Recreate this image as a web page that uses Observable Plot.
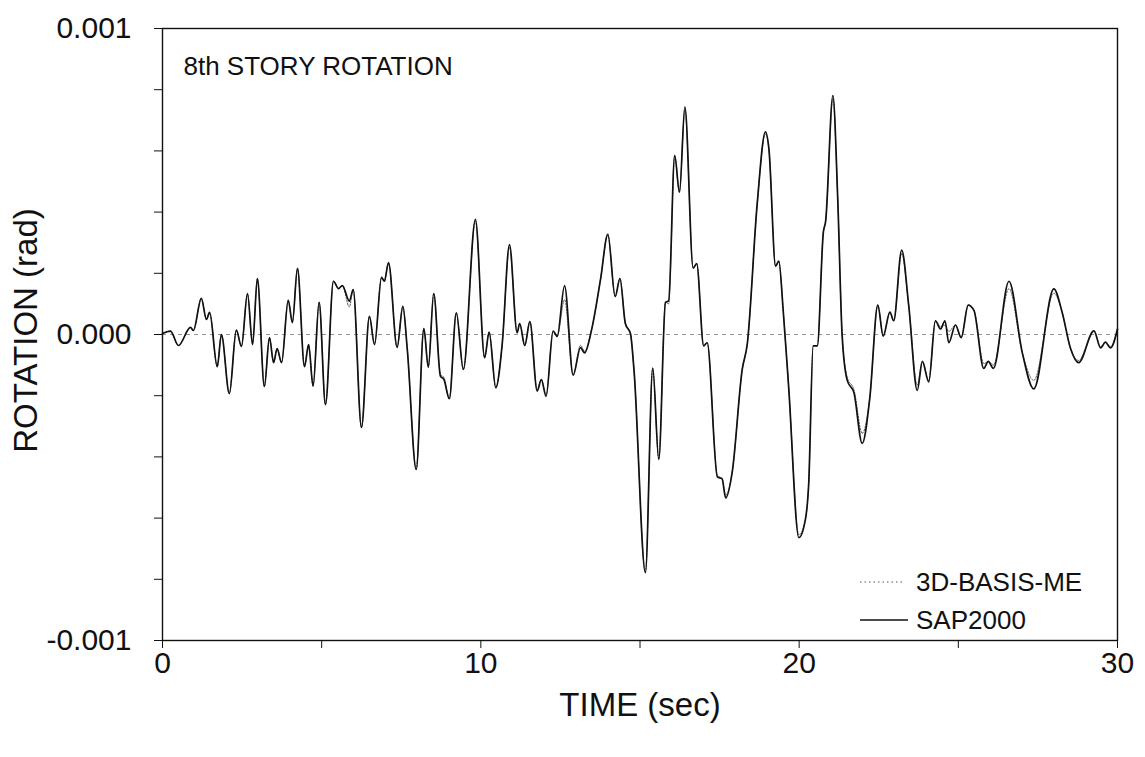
<!DOCTYPE html>
<html>
<head>
<meta charset="utf-8">
<script src="https://cdn.jsdelivr.net/npm/d3@7"></script>
<script src="https://cdn.jsdelivr.net/npm/@observablehq/plot@0.6"></script>
<style>
  html, body { margin: 0; padding: 0; background: #fff; }
  #wrap { position: relative; width: 1145px; height: 757px; font-family: "Liberation Sans", Arial, sans-serif; }
  #legend { position: absolute; left: 858px; top: 563px; font-size: 26px; color: #111; line-height: 38px; }
  #legend div { display: flex; align-items: center; height: 38px; }
  #legend svg { margin-right: 6px; }
</style>
</head>
<body>
<div id="wrap">
  <div id="chart"></div>
  <div id="legend"></div>
</div>
<script>
// Time (sec)
const times = [
  0.00, 0.25, 0.50, 0.88, 0.97, 1.22, 1.38, 1.48, 1.72, 1.85,
  2.10, 2.32, 2.48, 2.67, 2.83, 2.98, 3.20, 3.36, 3.49, 3.60,
  3.74, 3.95, 4.08, 4.24, 4.46, 4.59, 4.73, 4.92, 5.12, 5.37,
  5.53, 5.65, 5.87, 5.99, 6.25, 6.50, 6.66, 6.88, 6.97, 7.10,
  7.37, 7.55, 7.69, 7.97, 8.21, 8.35, 8.52, 8.73, 8.84, 9.01,
  9.23, 9.45, 9.83, 10.12, 10.26, 10.47, 10.67, 10.90, 11.14, 11.22,
  11.38, 11.54, 11.77, 11.90, 12.05, 12.27, 12.40, 12.63, 12.90, 13.13,
  13.26, 13.48, 13.76, 13.99, 14.22, 14.37, 14.54, 14.70, 14.81, 15.17,
  15.40, 15.59, 15.80, 15.90, 16.09, 16.24, 16.41, 16.67, 16.78, 17.00,
  17.11, 17.43, 17.58, 17.69, 17.90, 18.21, 18.37, 18.68, 18.94, 19.05,
  19.26, 19.36, 19.50, 19.67, 19.99, 20.20, 20.30, 20.44, 20.57, 20.76,
  20.83, 21.06, 21.21, 21.35, 21.51, 21.72, 21.98, 22.22, 22.47, 22.64,
  22.85, 22.97, 23.22, 23.44, 23.71, 23.87, 24.07, 24.28, 24.44, 24.58,
  24.70, 24.91, 25.09, 25.31, 25.49, 25.80, 25.94, 26.10, 26.59, 27.01,
  27.37, 28.00, 28.26, 28.52, 28.78, 29.26, 29.47, 29.62, 29.78, 30.00
];

// SAP2000 rotation (rad)
const sap2000 = [
  0.000003, 0.000011, -0.000036, 0.000023, 0.000013, 0.000118, 0.000049, 0.000072, -0.000105, 0.000000,
  -0.000193, 0.000014, -0.000039, 0.000134, -0.000033, 0.000183, -0.000170, -0.000010, -0.000092, -0.000046,
  -0.000092, 0.000112, 0.000039, 0.000216, -0.000105, -0.000033, -0.000169, 0.000105, -0.000229, 0.000174,
  0.000150, 0.000160, 0.000109, 0.000147, -0.000304, 0.000059, -0.000033, 0.000187, 0.000174, 0.000235,
  -0.000042, 0.000092, -0.000049, -0.000441, 0.000019, -0.000107, 0.000134, -0.000136, -0.000147, -0.000210,
  0.000071, -0.000114, 0.000376, -0.000076, 0.000008, -0.000174, -0.000033, 0.000294, 0.000006, 0.000036,
  -0.000036, 0.000042, -0.000185, -0.000147, -0.000202, 0.000011, -0.000006, 0.000160, -0.000133, -0.000043,
  -0.000060, 0.000016, 0.000180, 0.000327, 0.000124, 0.000183, 0.000036, 0.000003, -0.000114, -0.000778,
  -0.000110, -0.000408, 0.000105, 0.000110, 0.000585, 0.000465, 0.000744, 0.000217, 0.000232, -0.000037,
  -0.000027, -0.000465, -0.000472, -0.000534, -0.000447, -0.000115, -0.000031, 0.000425, 0.000662, 0.000606,
  0.000223, 0.000240, 0.000076, -0.000172, -0.000664, -0.000602, -0.000487, -0.000037, -0.000037, 0.000335,
  0.000369, 0.000781, 0.000448, -0.000003, -0.000150, -0.000190, -0.000356, -0.000206, 0.000096, -0.000005,
  0.000073, 0.000045, 0.000276, 0.000096, -0.000183, -0.000088, -0.000155, 0.000045, 0.000018, 0.000045,
  -0.000027, 0.000031, -0.000010, 0.000096, 0.000079, -0.000111, -0.000088, -0.000111, 0.000174, -0.000060,
  -0.000178, 0.000149, 0.000073, -0.000044, -0.000092, 0.000012, -0.000044, -0.000025, -0.000044, 0.000018
];

// 3D-BASIS-ME rotation (rad)
const basisMe = [
  0.000003, 0.000011, -0.000036, 0.000023, 0.000013, 0.000118, 0.000049, 0.000072, -0.000105, 0.000000,
  -0.000193, 0.000014, -0.000039, 0.000134, -0.000033, 0.000183, -0.000170, -0.000010, -0.000092, -0.000046,
  -0.000092, 0.000112, 0.000039, 0.000216, -0.000105, -0.000033, -0.000169, 0.000105, -0.000229, 0.000174,
  0.000150, 0.000160, 0.000090, 0.000147, -0.000304, 0.000059, -0.000033, 0.000187, 0.000174, 0.000235,
  -0.000042, 0.000092, -0.000049, -0.000441, 0.000019, -0.000107, 0.000134, -0.000130, -0.000140, -0.000210,
  0.000071, -0.000114, 0.000370, -0.000076, 0.000008, -0.000174, -0.000033, 0.000285, 0.000006, 0.000036,
  -0.000036, 0.000042, -0.000180, -0.000147, -0.000198, 0.000011, -0.000006, 0.000114, -0.000133, -0.000035,
  -0.000055, 0.000016, 0.000180, 0.000327, 0.000124, 0.000183, 0.000036, 0.000003, -0.000114, -0.000778,
  -0.000110, -0.000408, 0.000105, 0.000100, 0.000585, 0.000465, 0.000735, 0.000217, 0.000232, -0.000037,
  -0.000027, -0.000460, -0.000472, -0.000525, -0.000447, -0.000115, -0.000031, 0.000425, 0.000655, 0.000606,
  0.000223, 0.000240, 0.000076, -0.000172, -0.000655, -0.000602, -0.000487, -0.000037, -0.000037, 0.000335,
  0.000369, 0.000770, 0.000448, -0.000003, -0.000140, -0.000180, -0.000323, -0.000206, 0.000096, -0.000005,
  0.000073, 0.000045, 0.000265, 0.000096, -0.000165, -0.000088, -0.000150, 0.000045, 0.000025, 0.000030,
  0.000010, 0.000031, -0.000010, 0.000096, 0.000079, -0.000095, -0.000088, -0.000100, 0.000150, -0.000060,
  -0.000150, 0.000135, 0.000073, -0.000044, -0.000085, 0.000012, -0.000040, -0.000025, -0.000040, 0.000018
];

const xTickValues = [0, 5, 10, 15, 20, 25, 30];
const xLabelValues = [0, 10, 20, 30];
const xLabelTexts = ["0", "10", "20", "30"];
const yTickValues = [-0.001, -0.0008, -0.0006, -0.0004, -0.0002, 0, 0.0002, 0.0004, 0.0006, 0.0008, 0.001];
const yLabelValues = [-0.001, 0, 0.001];
const yLabelTexts = ["-0.001", "0.000", "0.001"];
const seriesNames = ["3D-BASIS-ME", "SAP2000"];

const sapData = times.map((t, i) => ({t, v: sap2000[i]}));
const basisData = times.map((t, i) => ({t, v: basisMe[i]}));

const font = "Liberation Sans, Arial, sans-serif";

const chart = Plot.plot({
  width: 1145,
  height: 757,
  marginTop: 28,
  marginRight: 28,
  marginBottom: 117,
  marginLeft: 162,
  style: {fontFamily: font, background: "#fff", color: "#111"},
  x: {domain: [0, 30]},
  y: {domain: [-0.001, 0.001]},
  marks: [
    Plot.ruleY([0], {stroke: "#888", strokeWidth: 0.9, strokeDasharray: "4,4"}),
    Plot.line(basisData, {x: "t", y: "v", stroke: "#555", strokeWidth: 1, strokeDasharray: "1.5,1.5", curve: "monotone-x"}),
    Plot.line(sapData, {x: "t", y: "v", stroke: "#111", strokeWidth: 1.7, curve: "monotone-x"}),
    Plot.frame({stroke: "#111", strokeWidth: 1.4}),
    Plot.axisX({ticks: xTickValues, tickSize: 8, tickFormat: () => "", stroke: "#111", label: null}),
    Plot.axisX({ticks: xLabelValues, tickSize: 0, tickPadding: 11, tickFormat: (d) => xLabelTexts[xLabelValues.indexOf(d)], fontSize: 30, label: null}),
    Plot.axisY({ticks: yTickValues, tickSize: 8, tickFormat: () => "", stroke: "#111", label: null}),
    Plot.axisY({ticks: yLabelValues, tickSize: 0, tickPadding: 31, tickFormat: (d) => yLabelTexts[yLabelValues.indexOf(d)], fontSize: 30, label: null}),
    Plot.text(["TIME (sec)"], {frameAnchor: "bottom", dy: 65, textAnchor: "middle", lineAnchor: "middle", fontSize: 33, fill: "#111"}),
    Plot.text(["ROTATION (rad)"], {frameAnchor: "left", dx: -136, dy: -4, rotate: -90, textAnchor: "middle", lineAnchor: "middle", fontSize: 33, fill: "#111"}),
    Plot.text(["8th STORY ROTATION"], {frameAnchor: "top-left", dx: 21, dy: 38, textAnchor: "start", lineAnchor: "middle", fontSize: 26, fill: "#111"})
  ]
});
document.getElementById("chart").appendChild(chart);

// legend
const legend = document.getElementById("legend");
seriesNames.forEach((name, i) => {
  const row = document.createElement("div");
  const dash = i === 0 ? 'stroke="#555" stroke-width="1" stroke-dasharray="1.5,3"' : 'stroke="#111" stroke-width="1.4"';
  const x2 = i === 0 ? 44 : 50;
  row.innerHTML = `<svg width="52" height="10"><line x1="2" y1="5" x2="${x2}" y2="5" ${dash}/></svg><span>${name}</span>`;
  legend.appendChild(row);
});
</script>
</body>
</html>
